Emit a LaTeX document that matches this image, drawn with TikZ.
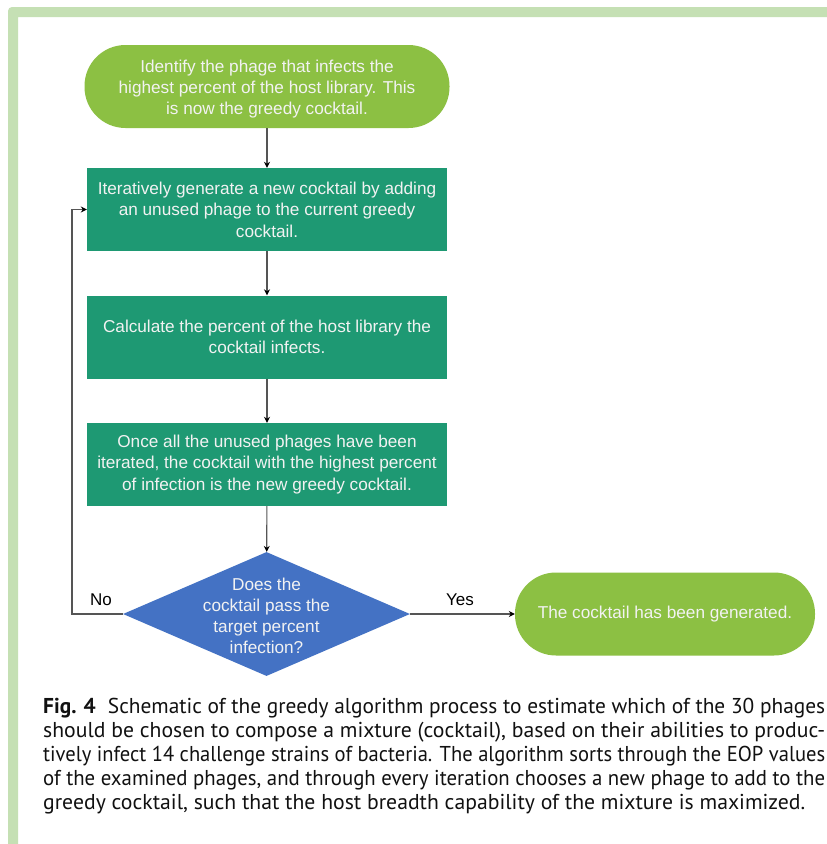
\documentclass[tikz,border=0pt]{standalone}
\usepackage{fontspec}
\usepackage{graphicx}
\setmainfont{Liberation Sans}
\newfontfamily\capfont{PT Sans}
\usetikzlibrary{shapes.geometric,arrows.meta}
\definecolor{framegreen}{HTML}{C5E0B4}
\definecolor{termgreen}{HTML}{8CC043}
\definecolor{procteal}{HTML}{1E9973}
\definecolor{decblue}{HTML}{4472C4}
\definecolor{txtwhite}{HTML}{F2F2F2}
\definecolor{linegray}{HTML}{555555}
\definecolor{captext}{HTML}{111111}
\newlength\capw
\newcommand\capstyle{\capfont\fontsize{21.5}{24}\selectfont}
\newcommand\capfit[2]{\settowidth\capw{\capstyle #2}\pgfmathsetmacro\capr{#1/\capw}\scalebox{\capr}[1]{\capstyle #2}}
\begin{document}
\begin{tikzpicture}[x=1pt,y=-1pt,
  nodefont/.style={font=\fontsize{17.2}{21.5}\selectfont},
  term/.style={nodefont, fill=termgreen, draw=none, rounded corners=41pt,
    minimum height=83pt, inner sep=0pt, text=txtwhite, align=center},
  procbox/.style={nodefont, fill=procteal, draw=none, minimum width=360pt,
    minimum height=83pt, inner sep=0pt, text=txtwhite, align=center},
  decbox/.style={nodefont, diamond, fill=decblue, draw=none, minimum width=287pt,
    minimum height=124pt, inner sep=0pt, text=txtwhite},
  flow/.style={draw=linegray, line width=1.1pt, -{Stealth[length=6pt,width=6pt,color=black]}},
  lbl/.style={font=\fontsize{17}{20}\selectfont, text=black, inner sep=0pt},
  capline/.style={anchor=base west, inner sep=0pt, text=captext}
]
\useasboundingbox (0,0) rectangle (827,844);
\clip (0,0) rectangle (827,844);
\fill[white] (0,0) rectangle (827,844);
% frame
\fill[framegreen, even odd rule] [rounded corners=4pt] (8,7) rectangle (900,900)
  [sharp corners] (18,17) rectangle (890,890);

% nodes
\node[term, minimum width=365pt] (start) at (267,86.5)
  {\smash{\makebox[0pt]{\raisebox{-7.3pt}{\def\arraystretch{0.96}\begin{tabular}{@{}c@{}}Identify the phage that infects the\\highest percent of the host library. This\\is now the greedy cocktail.\end{tabular}}}}};
\node[procbox] (gen) at (267,209.5)
  {Iteratively generate a new cocktail by adding\\an unused phage to the current greedy\\cocktail.};
\node[procbox] (calc) at (267,337)
  {Calculate the percent of the host library the\\cocktail infects.};
\node[procbox] (pick) at (267,464.5)
  {Once all the unused phages have been\\iterated, the cocktail with the highest percent\\of infection is the new greedy cocktail.};
\node[decbox] (dec) at (266.5,614)
  {\smash{\makebox[0pt]{\raisebox{-0.45em}{\def\arraystretch{0.98}\begin{tabular}{@{}c@{}}Does the\\cocktail pass the\\target percent\\infection?\end{tabular}}}}};
\node[term, minimum width=300pt] (done) at (665,614)
  {The cocktail has been generated.};

\coordinate (bend) at (72,614);

% connectors
\draw[flow] (start) -- (gen);
\draw[flow] (gen) -- (calc);
\draw[flow] (calc) -- (pick);
\draw[flow] (pick) -- (dec);
\draw[flow] (dec.east) -- (done.west);
\draw[flow] (dec.west) -- (bend) |- (gen.west);

\node[lbl] (no) at (101,600) {No};
\node[lbl] (yes) at (460,600) {Yes};

% caption
\node[capline] (cap1) at (43,713) {\capfit{782}{\textbf{Fig. 4}\hspace{0.3em} Schematic of the greedy algorithm process to estimate which of the 30 phages}};
\node[capline] (cap2) at (43,737) {\capfit{782}{should be chosen to compose a mixture (cocktail), based on their abilities to produc-}};
\node[capline] (cap3) at (43,761) {\capfit{782}{tively infect 14 challenge strains of bacteria. The algorithm sorts through the EOP values}};
\node[capline] (cap4) at (43,785) {\capfit{782}{of the examined phages, and through every iteration chooses a new phage to add to the}};
\node[capline] (cap5) at (43,809) {\capfit{762}{greedy cocktail, such that the host breadth capability of the mixture is maximized.}};
\end{tikzpicture}
\end{document}
